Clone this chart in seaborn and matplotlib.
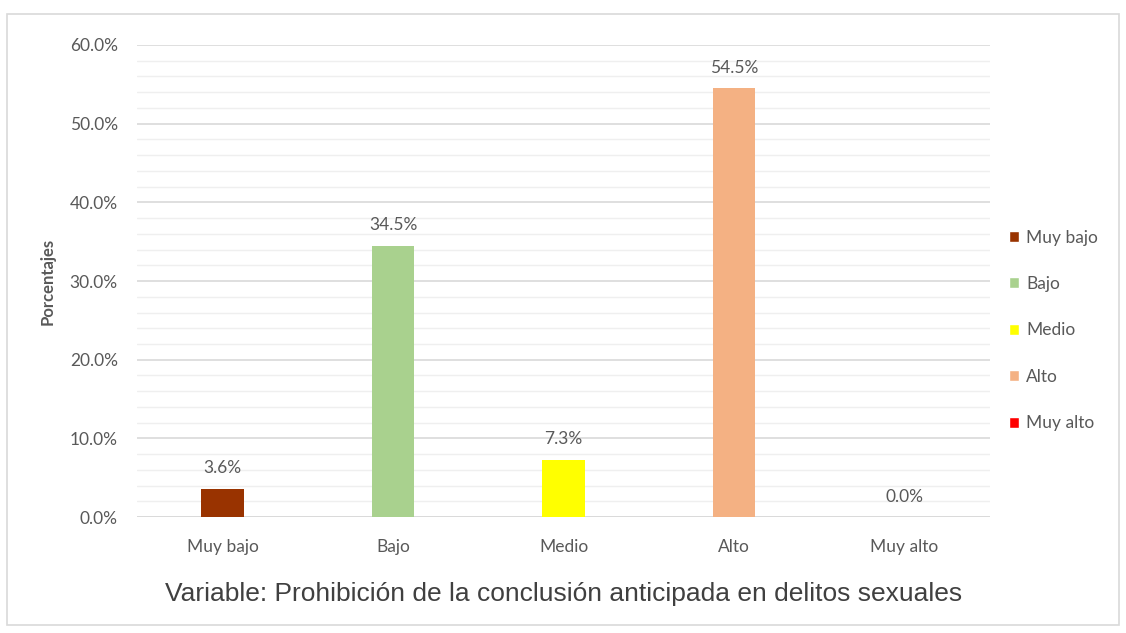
import pandas as pd
import matplotlib.pyplot as plt
import seaborn as sns
from matplotlib.patches import Patch, Rectangle
from matplotlib.ticker import PercentFormatter, MultipleLocator

categorias = ["Muy bajo", "Bajo", "Medio", "Alto", "Muy alto"]
porcentajes = [3.6, 34.5, 7.3, 54.5, 0.0]
colores = ["#993300", "#A9D18E", "#FFFF00", "#F4B183", "#FF0000"]
titulo = "Variable: Prohibición de la conclusión anticipada en delitos sexuales"

df = pd.DataFrame({"Nivel": categorias, "Porcentaje": porcentajes})

sns.set_style("white")
plt.rcParams["font.family"] = ["Lato", "DejaVu Sans"]
gris = "#595959"

fig = plt.figure(figsize=(11.26, 6.33), dpi=100)
ax = fig.add_axes([0.122, 0.183, 0.757, 0.746])

sns.barplot(data=df, x="Nivel", y="Porcentaje", hue="Nivel", palette=colores,
            saturation=1, width=0.25, linewidth=0, legend=False, ax=ax, zorder=3)

ax.set_ylim(0, 60)
ax.set_xlim(-0.5, 4.5)
ax.yaxis.set_major_locator(MultipleLocator(10))
ax.yaxis.set_minor_locator(MultipleLocator(2))
ax.yaxis.set_major_formatter(PercentFormatter(decimals=1))
ax.grid(axis="y", which="major", color="#D9D9D9", linewidth=1.2, zorder=0)
ax.grid(axis="y", which="minor", color="#EFEFEF", linewidth=1.0, zorder=0)
ax.set_axisbelow(True)
sns.despine(ax=ax, left=True, bottom=True)
ax.axhline(0, color="#D9D9D9", linewidth=1.2, zorder=2)
ax.tick_params(axis="both", which="both", length=0, colors=gris, labelsize=12.5)
ax.tick_params(axis="y", pad=14)
ax.tick_params(axis="x", pad=16)

for i, v in enumerate(porcentajes):
    ax.text(i, v + 1.6, f"{v:.1f}%", ha="center", va="bottom", fontsize=12.5, color=gris)

ax.set_xlabel(titulo, fontsize=19, color="#404040", labelpad=19,
              family=["Liberation Sans", "DejaVu Sans"])
ax.set_ylabel("Porcentajes", fontsize=12, color=gris, fontweight="bold", labelpad=10)

handles = [Patch(facecolor=c, label=n) for n, c in zip(categorias, colores)]
fig.legend(handles=handles, loc="center left", bbox_to_anchor=(0.882, 0.478),
           frameon=False, fontsize=12.5, labelcolor=gris, handlelength=0.6,
           handleheight=0.6, handletextpad=0.4, labelspacing=1.75)

fig.patches.append(Rectangle((0.006, 0.013), 0.988, 0.965, transform=fig.transFigure,
                             fill=False, edgecolor="#D9D9D9", linewidth=1.2))

fig.savefig("out.png", dpi=100)
